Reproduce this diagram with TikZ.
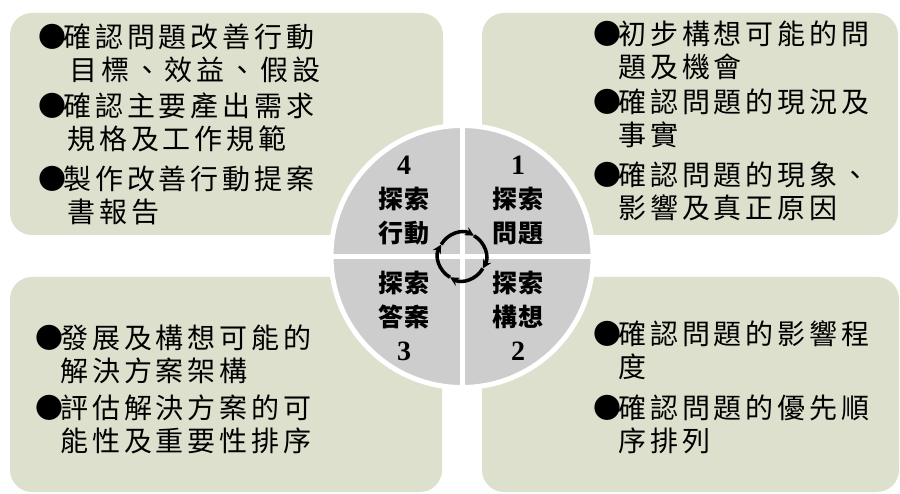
\documentclass[tikz,border=0pt]{standalone}
\usepackage{fontspec}
\setmainfont{Liberation Serif}
\newfontfamily\cjk[LetterSpace=14]{Noto Sans CJK TC}
\newfontfamily\cjklab[LetterSpace=4]{Noto Sans CJK TC}
\usetikzlibrary{arrows.meta}

\definecolor{boxgreen}{RGB}{221,224,205}
\definecolor{quadgray}{RGB}{205,205,205}

\newcommand\itm{\makebox[25pt][l]{●}}
\newcommand\cnt[1][25pt]{\hspace*{#1}}
\newcommand\qnum[1]{{\rmfamily\fontsize{28}{34}\selectfont #1}}

\tikzset{
  panel/.style={fill=boxgreen, rounded corners=22pt},
  panetext/.style={anchor=north west, align=left, inner sep=0pt,
    font=\cjk\fontsize{28}{33}\selectfont},
  quadlabel/.style={align=center, inner sep=0pt,
    font=\cjklab\bfseries\fontsize{25}{34}\selectfont},
  ring/.style={line width=3.5pt, -{Stealth[length=9pt,width=9pt]}},
}

\begin{document}
\begin{tikzpicture}[x=1pt, y=-1pt]
        \useasboundingbox (0,0) rectangle (900,494);
        \fill[white] (0,0) rectangle (900,494);

        % four panels
        \fill[panel] (10,13) rectangle (443,235);
        \fill[panel] (482,13) rectangle (898,235);
        \fill[panel] (10,277) rectangle (442,492);
        \fill[panel] (482,277) rectangle (899,492);

        % the wheel
        \coordinate (hub) at (462,256.5);
        \fill[quadgray] (hub) circle[radius=131];
        \draw[white, line width=5pt] (hub) circle[radius=131];
        \draw[white, line width=5pt] (462,125) -- (462,388);
        \draw[white, line width=5pt] (331,256.5) -- (593,256.5);
        \foreach \a in {60,-30,-120,150}
            \draw[ring] (hub) ++(\a+90:24pt) arc[start angle=\a+90, end angle=\a, radius=24pt];

        \node[quadlabel] (qOne) at (518,201) {\qnum{1}\\探索\\問題};
        \node[quadlabel] (qTwo) at (518,316) {探索\\構想\\\qnum{2}};
        \node[quadlabel] (qThree) at (404,316) {探索\\答案\\\qnum{3}};
        \node[quadlabel] (qFour) at (404,201) {\qnum{4}\\探索\\行動};

        \node[panetext] (tlText) at (38,24) {\itm 確認問題改善行動\\ \cnt[31pt]目標、效益、假設\\[3pt]
            \itm 確認主要產出需求\\ \cnt[29pt]規格及工作規範\\[7pt]
            \itm 製作改善行動提案\\ \cnt[29pt]書報告};
        \node[panetext] (trText) at (593,21) {\itm 初步構想可能的問\\ \cnt 題及機會\\[2pt]
            \itm 確認問題的現況及\\ \cnt 事實\\[7pt]
            \itm 確認問題的現象、\\ \cnt 影響及真正原因};
        \node[panetext] (blText) at (35,325) {\itm 發展及構想可能的\\ \cnt 解決方案架構\\[4pt]
            \itm 評估解決方案的可\\ \cnt 能性及重要性排序};
        \node[panetext] (brText) at (593,320) {\itm 確認問題的影響程\\ \cnt 度\\[8pt]
            \itm 確認問題的優先順\\ \cnt 序排列};
\end{tikzpicture}
\end{document}
